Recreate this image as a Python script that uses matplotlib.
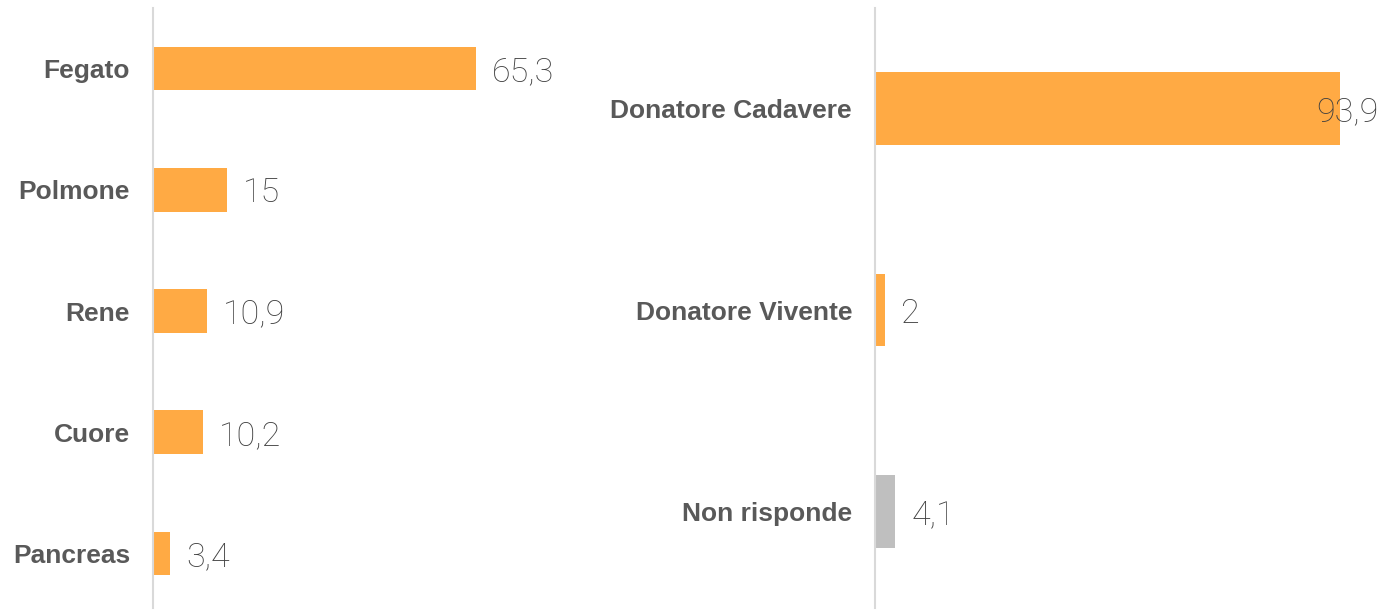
import matplotlib
matplotlib.use("Agg")
import matplotlib.pyplot as plt

# ========== Данные ==========
organi = ["Fegato", "Polmone", "Rene", "Cuore", "Pancreas"]
organi_val = [65.3, 15, 10.9, 10.2, 3.4]

donatore = ["Donatore Cadavere", "Donatore Vivente", "Non risponde"]
donatore_val = [93.9, 2, 4.1]

ORANGE = "#FFAA44"
GREY = "#BFBFBF"
LABEL_COL = "#595959"
VALUE_COL = "#404040"
AXIS_COL = "#D9D9D9"
VALUE_FONT = ["Roboto", "DejaVu Sans"]
# ============================

W, H = 1379, 611
fig = plt.figure(figsize=(W / 100, H / 100), dpi=100)


def fmt(v):
    s = f"{v:.1f}".replace(".", ",")
    return s[:-2] if s.endswith(",0") else s


def panel(rect, cats, vals, colors, xmax, bottom_pad):
    ax = fig.add_axes(rect)
    y = list(range(len(cats)))
    ax.barh(y, vals, height=0.36, color=colors)
    ax.set_ylim(len(cats) - 1 + bottom_pad, -0.5)
    ax.set_xlim(0, xmax)
    ax.set_yticks(y)
    ax.set_yticklabels(cats, fontsize=19, fontweight="bold", color=LABEL_COL,
                       family=["Liberation Sans", "DejaVu Sans"])
    ax.tick_params(axis="y", length=0, pad=16.5)
    ax.set_xticks([])
    for s in ["top", "right", "bottom"]:
        ax.spines[s].set_visible(False)
    ax.spines["left"].set_color(AXIS_COL)
    ax.spines["left"].set_linewidth(1.5)
    return ax, y


def value_labels(ax, y, vals):
    for yi, v in zip(y, vals):
        # позиция конца бара в пикселях
        xp = ax.transData.transform((v, yi))[0]
        if xp + 16 + 70 > W:
            ax.annotate(fmt(v), xy=(1.0, yi), xycoords=("figure fraction", "data"),
                        xytext=(-1, 0), textcoords="offset pixels",
                        ha="right", va="center_baseline", fontsize=24.5, color=VALUE_COL,
                        family=VALUE_FONT, fontweight="light")
        else:
            ax.annotate(fmt(v), xy=(v, yi), xytext=(16, 0), textcoords="offset pixels",
                        ha="left", va="center_baseline", fontsize=24.5, color=VALUE_COL,
                        family=VALUE_FONT, fontweight="light")


bottom = 3 / H
height = 600 / H

ax1, y1 = panel([153 / W, bottom, 346 / W, height], organi, organi_val,
                [ORANGE] * 5, 70, 0.45)
value_labels(ax1, y1, organi_val)

ax2, y2 = panel([875 / W, bottom, 495 / W, height], donatore, donatore_val,
                [ORANGE, ORANGE, GREY], 100, 0.48)
value_labels(ax2, y2, donatore_val)

fig.savefig("out.png", dpi=100)
